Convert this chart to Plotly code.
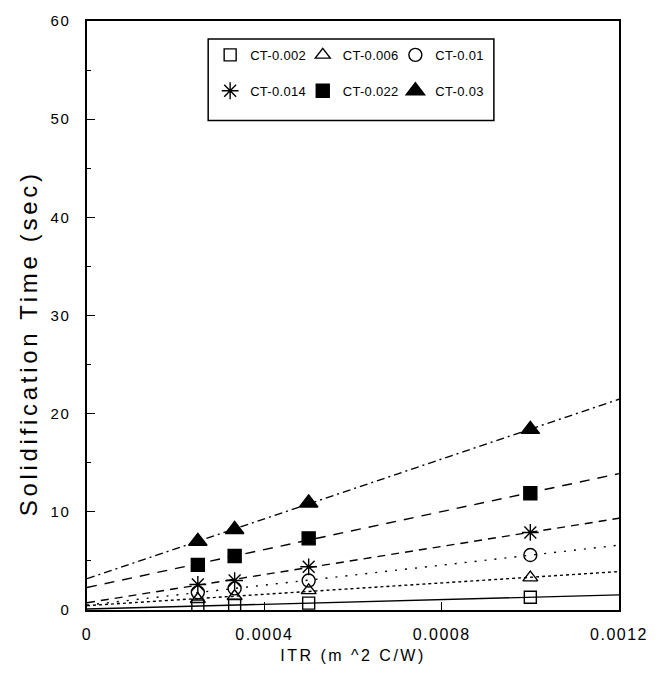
import numpy as np
import plotly.graph_objects as go

itr = [0.00025, 0.000333, 0.0005, 0.001]
series_names = ["CT-0.002", "CT-0.006", "CT-0.01", "CT-0.014", "CT-0.022", "CT-0.03"]
ct_0002 = [0.4, 0.5, 0.7, 1.3]
ct_0006 = [1.1, 1.4, 2.0, 3.3]
ct_001 = [1.8, 2.2, 3.0, 5.6]
ct_0014 = [2.6, 3.0, 4.4, 7.9]
ct_0022 = [4.6, 5.5, 7.3, 11.9]
ct_003 = [7.0, 8.2, 10.9, 18.4]
series_values = [ct_0002, ct_0006, ct_001, ct_0014, ct_0022, ct_003]
x_ticks = [0, 0.0004, 0.0008, 0.0012]
x_tick_labels = ["0", "0.0004", "0.0008", "0.0012"]
y_ticks = [0, 10, 20, 30, 40, 50, 60]
y_tick_labels = ["0", "10", "20", "30", "40", "50", "60"]


def spaced(s, px):
    return '<span style="letter-spacing:%spx">%s</span>' % (px, s)


symbols = ["square-open", "triangle-up-open", "circle-open", "asterisk-open", "square", "triangle-up"]
sizes = [12, 13, 13, 14, 13, 16]
dashes = ["solid", "3px,3px", "2px,8px", "8px,6px", "10px,8px", "8px,4px,2px,4px"]
legend_ids = ["legend", "legend2", "legend3", "legend", "legend2", "legend3"]

fig = go.Figure()
fit_x = np.array([0.0, 0.0012])
for i, (name, vals, sym, sz, dash, lg) in enumerate(
        zip(series_names, series_values, symbols, sizes, dashes, legend_ids)):
    slope, intercept = np.polyfit(itr, vals, 1)
    fig.add_trace(go.Scatter(
        x=fit_x, y=slope * fit_x + intercept, mode="lines",
        line=dict(color="black", width=1.4, dash=dash),
        showlegend=False, hoverinfo="skip"))
    fig.add_trace(go.Scatter(
        x=itr, y=vals, mode="markers", name=spaced(name, 0.3),
        legend=lg, legendgroup="g%d" % i,
        marker=dict(symbol=sym, size=sz, color="black",
                    line=dict(color="black", width=1.4))))

font = "Liberation Sans, Arial, sans-serif"
leg_common = dict(orientation="v", yanchor="top", xanchor="left", y=(610 - 37) / 592,
                  bgcolor="rgba(0,0,0,0)", borderwidth=0, font=dict(size=13),
                  itemwidth=30, tracegroupgap=16)
fig.update_layout(
    width=660, height=678,
    margin=dict(l=87, r=33, t=18, b=68),
    plot_bgcolor="white", paper_bgcolor="white",
    font=dict(family=font, color="black", size=15),
    showlegend=True,
    legend=dict(x=(212 - 87) / 540, **leg_common),
    legend2=dict(x=(306 - 87) / 540, **leg_common),
    legend3=dict(x=(400 - 87) / 540, **leg_common),
    shapes=[dict(type="rect", xref="paper", yref="paper",
                 x0=(210 - 87) / 540, x1=(500 - 87) / 540,
                 y0=(610 - 118) / 592, y1=(610 - 36) / 592,
                 line=dict(color="black", width=1.5), fillcolor="white", layer="below")],
    annotations=[dict(text=spaced("Solidification Time (sec)", 3.7), textangle=-90,
                      xref="paper", yref="paper", x=(27 - 87) / 540, y=(610 - 342) / 592,
                      xanchor="center", yanchor="middle", showarrow=False,
                      font=dict(size=24))],
    xaxis=dict(range=[0, 0.0012], tickvals=x_ticks,
               ticktext=[spaced(t, 1.5) for t in x_tick_labels],
               showgrid=False, zeroline=False, showline=True, linecolor="black",
               linewidth=1.5, mirror=True, ticks="inside", ticklen=8,
               tickcolor="black", tickfont=dict(size=16), ticklabelstandoff=9,
               title=dict(text=spaced("ITR (m ^2 C/W)", 2.5), font=dict(size=16), standoff=8)),
    yaxis=dict(range=[0, 60], tickvals=y_ticks,
               ticktext=[spaced(t, 1.5) for t in y_tick_labels],
               showgrid=False, zeroline=False, showline=True, linecolor="black",
               linewidth=1.5, mirror=True, ticks="inside", ticklen=8,
               tickcolor="black", tickfont=dict(size=15), ticklabelstandoff=12,
               minor=dict(ticks="inside", ticklen=4, dtick=5, tickcolor="black")),
)
fig.write_html("out.html")
